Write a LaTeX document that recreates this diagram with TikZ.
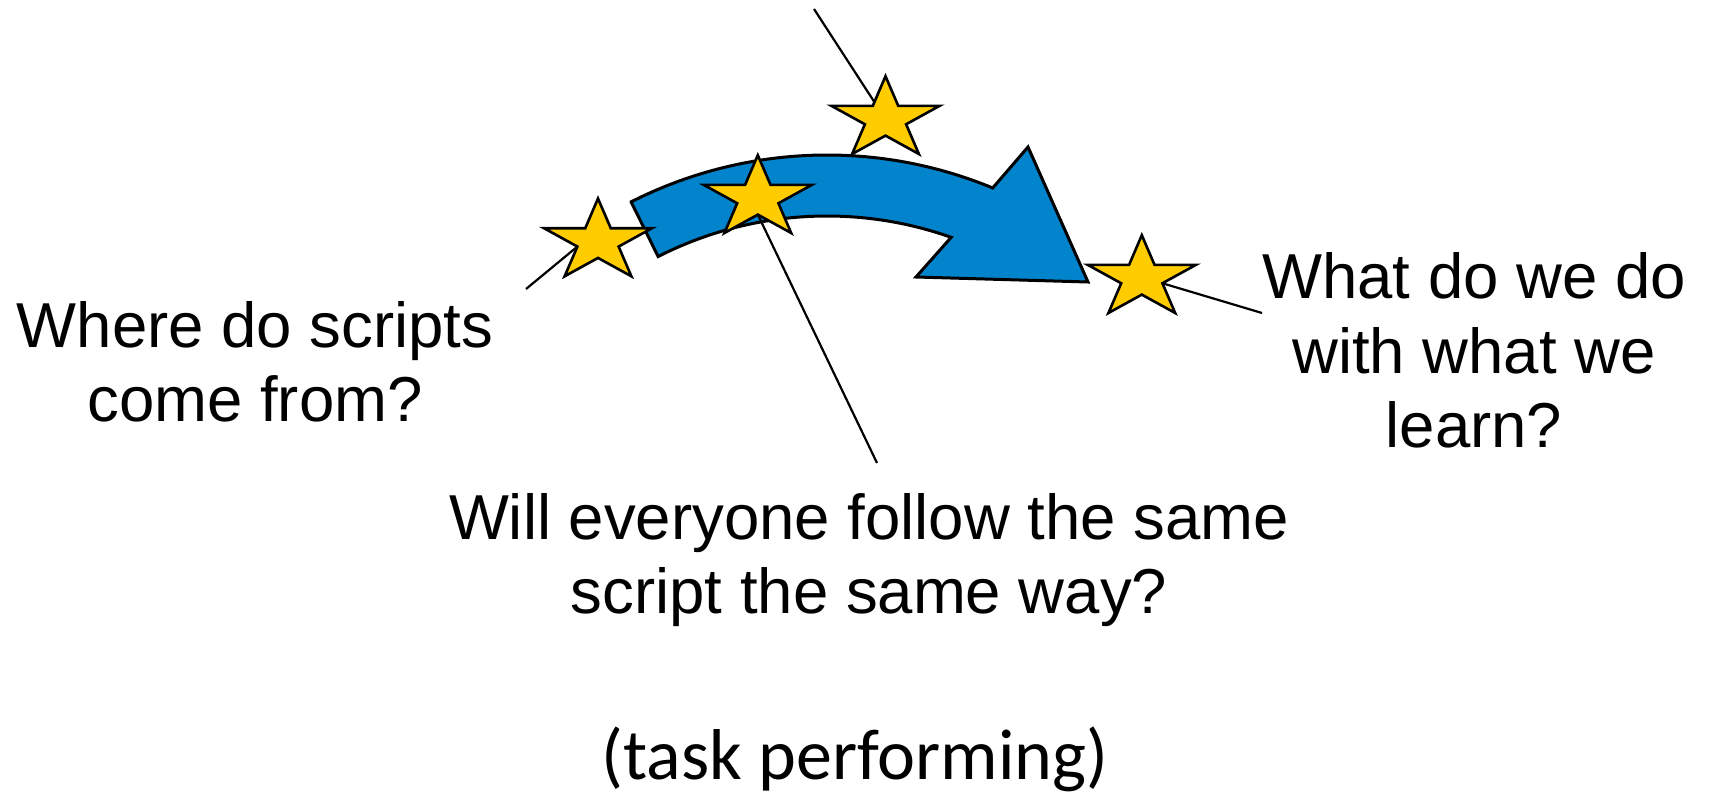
\documentclass[tikz,border=0pt]{standalone}
\usepackage{fontspec}
\setmainfont{Liberation Sans}
\newfontfamily\bodyfont{Carlito}
\usetikzlibrary{shapes.geometric}

\definecolor{arrowblue}{RGB}{2,132,204}
\definecolor{staryellow}{RGB}{255,204,0}

\pgfdeclarelayer{background}
\pgfsetlayers{background,main}

\begin{document}
\begin{tikzpicture}[x=1pt, y=-1pt,
  goldstar/.style={star, star points=5, star point ratio=2.618,
    minimum size=86pt, inner sep=0pt, outer sep=0pt,
    fill=staryellow, draw=black, line width=2.6pt, miter limit=10,
    transform shape},
  bandarrow/.style={fill=arrowblue, draw=black, line width=3pt, line join=miter},
  pointer/.style={draw=black, line width=2.2pt},
  question/.style={align=center, inner sep=0pt, anchor=north,
    font=\fontsize{63.5}{74.5}\selectfont},
  caption/.style={inner sep=0pt, anchor=base,
    font=\bodyfont\fontsize{72}{86}\selectfont},
]
\useasboundingbox (0,0) rectangle (1710,794);

% curved block arrow: outer and inner arcs share the centre (827,588)
\begin{pgfonlayer}{background}
\path[bandarrow] (631.1,201.9)
  -- plot[domain=116.9:67.5, samples=80] ({827+433*cos(\x)},{588-433*sin(\x)})
  -- (1028,147) -- (1088,282) -- (916,277)
  -- plot[domain=70.5:117, samples=80] ({827+372*cos(\x)},{588-372*sin(\x)})
  -- cycle;
\end{pgfonlayer}

% free ends of the pointer lines
\coordinate (topend)   at (814,9);
\coordinate (leftend)  at (526,289);
\coordinate (midend)   at (877,463);
\coordinate (rightend) at (1262,313);

% stars, widened horizontally
\begin{scope}[shift={(598,241.5)}, xscale=1.32]
  \node[goldstar] (s1) at (0,0) {};
\end{scope}
\begin{scope}[shift={(757.8,198.2)}, xscale=1.32]
  \node[goldstar] (s2) at (0,0) {};
\end{scope}
\begin{scope}[shift={(885.5,119.2)}, xscale=1.32]
  \node[goldstar] (s3) at (0,0) {};
\end{scope}
\begin{scope}[shift={(1141.8,278.2)}, xscale=1.32]
  \node[goldstar] (s4) at (0,0) {};
\end{scope}

% pointer lines, above the arrow and below the stars
\begin{pgfonlayer}{background}
\draw[pointer] (topend) -- (s3.center);
\draw[pointer] (leftend) -- (s1.inner point 2);
\draw[pointer] (s2.inner point 3) -- (midend);
\draw[pointer] (s4.inner point 4) -- (rightend);
\end{pgfonlayer}

% questions
\node[question] (qwhere) at (255,301.2) {Where do scripts\\come from?};
\node[question] (qwhat)  at (1474,252.5) {What do we do\\with what we\\learn?};
\node[question] (qwill)  at (869,492.8) {Will everyone follow the same\\script the same way?};
\node[caption]  (task)   at (855,779) {(task performing)};
\end{tikzpicture}
\end{document}
